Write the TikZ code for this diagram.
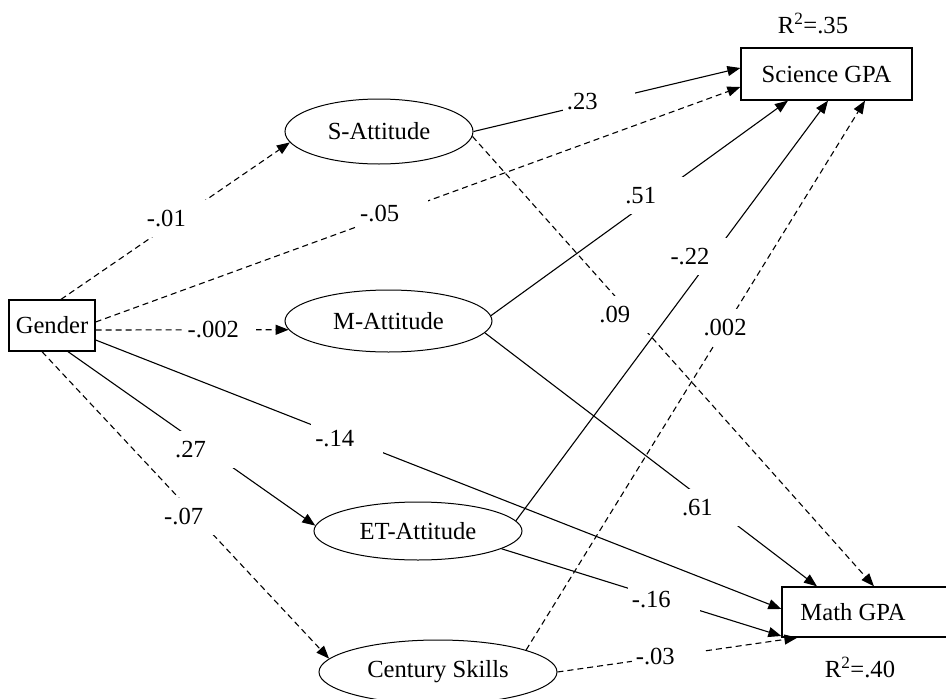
\documentclass[tikz,border=0pt]{standalone}
\usepackage{fontspec}
\setmainfont{Liberation Serif}
\usetikzlibrary{arrows.meta,shapes.geometric}
\begin{document}
\begin{tikzpicture}[x=1pt,y=-1pt,
  every node/.style={font=\fontsize{24.6}{28}\selectfont},
  box/.style={draw, line width=1.3pt, rectangle, inner sep=0pt},
  lat/.style={draw, ellipse, line width=1pt, inner sep=0pt},
  conn/.style={line width=1.1pt, -{Triangle[length=13pt,width=10pt]}},
  dsh/.style={conn, dash pattern=on 6pt off 4pt},
  lab/.style={fill=white, inner ysep=0pt, inner xsep=4pt, text width=64pt, align=left, minimum height=37pt}]
\useasboundingbox (0,0) rectangle (946,699);
\begin{scope}
\clip (0,0) rectangle (946,699);
\node[box, minimum width=86pt, minimum height=51pt] (gender) at (52,325.5) {Gender};
\node[box, minimum width=171pt, minimum height=52pt] (sci) at (826.5,74) {Science GPA};
\node[box, minimum width=166pt, minimum height=50pt] (math) at (865,612) {\hspace*{-24pt}Math GPA};
\node[lat, minimum width=188pt, minimum height=65pt] (S) at (379,131.5) {S-Attitude};
\node[lat, minimum width=207pt, minimum height=62pt] (M) at (388.5,321) {M-Attitude};
\node[lat, minimum width=208pt, minimum height=58pt] (ET) at (418,531) {ET-Attitude};
\node[lat, minimum width=238pt, minimum height=64pt] (CS) at (438,672) {Century Skills};
\node (r35) at (813,23) {R\textsuperscript{2}=.35};
\node (r40) at (860,667) {R\textsuperscript{2}=.40};

\draw[dsh] ([xshift=9pt]gender.north) -- node[lab,pos=0.515]{-.01} (S.187);
\draw[dsh] ([yshift=3.5pt]gender.east) -- node[lab,pos=0.46]{-.05} ([yshift=-13pt]sci.west);
\draw[dsh] ([yshift=-4.5pt]gender.east) -- node[lab,pos=0.643]{-.002} (M.185);
\draw[conn] ([yshift=-14.5pt]gender.east) -- node[lab,pos=0.367]{-.14} ([yshift=3pt]math.west);
\draw[conn] ([xshift=16pt]gender.south) -- node[lab,pos=0.563]{.27} (ET.177);
\draw[dsh] ([xshift=-10pt]gender.south) -- node[lab,pos=0.537]{-.07} (CS.173);
\draw[conn] (S.east) -- node[lab,pos=0.47]{.23} ([yshift=6pt]sci.west);
\draw[dsh] (S.357) -- node[lab,pos=0.396]{.09} ([xshift=9pt]math.north);
\draw[conn] (M.3) -- node[lab,pos=0.56]{.51} ([xshift=-38.5pt]sci.south);
\draw[conn] (M.353) -- node[lab,pos=0.69]{.61} ([xshift=-48pt]math.north);
\draw[conn] (ET.6) -- node[lab,pos=0.63,xshift=-10pt]{-.22} ([xshift=1.5pt]sci.south);
\draw[conn] (ET.348) -- node[lab,pos=0.58]{-.16} ([yshift=-24pt]math.west);
\draw[dsh] (CS.14) -- node[lab,pos=0.587,align=center]{.002} ([xshift=38.5pt]sci.south);
\draw[dsh] (CS.east) -- node[lab,pos=0.46]{-.03} ([xshift=16pt]math.south west);
\end{scope}
\end{tikzpicture}
\end{document}
